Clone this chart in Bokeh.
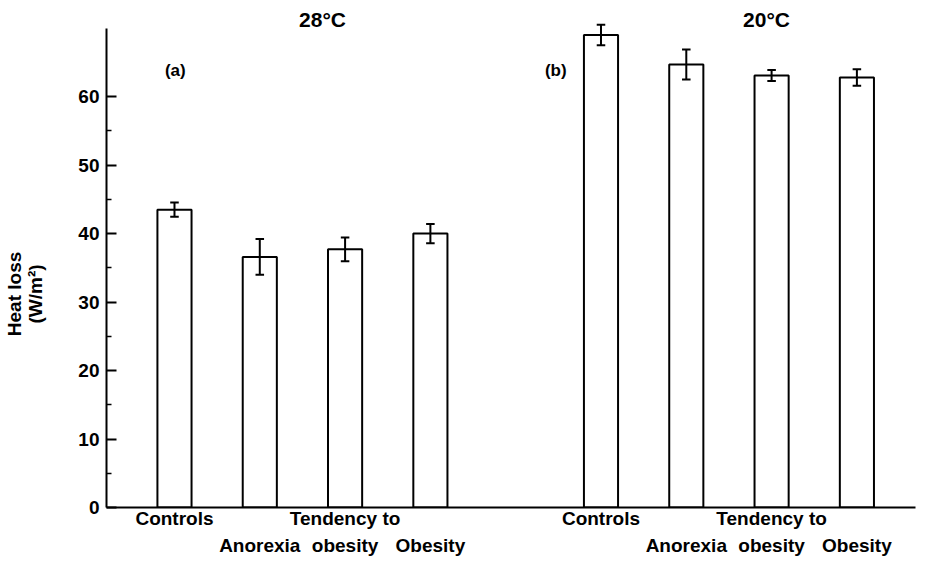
from bokeh.plotting import figure
from bokeh.models import Range1d, FixedTicker, Label, LinearAxis
from bokeh.embed import file_html
from bokeh.resources import INLINE

# ---- data ----
conditions = ["28°C", "20°C"]
panel_tags = ["(a)", "(b)"]
groups = ["Controls", "Anorexia", "Tendency to obesity", "Obesity"]
label_upper = ["Controls", "", "Tendency to", ""]
label_lower = ["", "Anorexia", "obesity", "Obesity"]
heat_28 = [43.5, 36.6, 37.7, 40.0]
err_28 = [1.05, 2.6, 1.75, 1.4]
heat_20 = [69.0, 64.7, 63.1, 62.8]
err_20 = [1.5, 2.2, 0.8, 1.2]
y_ticks = [0, 10, 20, 30, 40, 50, 60]
y_minor = [5, 15, 25, 35, 45, 55]
y_label_lines = ["Heat loss", "(W/m²)"]

FONT = "Liberation Sans"
PAD = "\u00a0" * 14  # shifts the centred y title down along the axis

p = figure(width=920, height=562, output_backend="svg", toolbar_location=None,
           x_range=Range1d(0.203, 9.687), y_range=Range1d(0, 73.17),
           min_border_left=106, min_border_right=5, min_border_top=6, min_border_bottom=55)
p.outline_line_color = None
p.xgrid.visible = False
p.ygrid.visible = False

values = [heat_28, heat_20]
errors = [err_28, err_20]
upper_ticks, upper_text = [], {}
lower_ticks, lower_text = [], {}
for gi in range(2):
    xs = [gi * 5 + i + 1 for i in range(len(groups))]
    tops = values[gi]
    errs = errors[gi]
    p.vbar(x=xs, top=tops, bottom=0, width=0.4, fill_color="white",
           line_color="black", line_width=2)
    lo = [t - e for t, e in zip(tops, errs)]
    hi = [t + e for t, e in zip(tops, errs)]
    p.segment(x0=xs, y0=lo, x1=xs, y1=hi, line_color="black", line_width=2)
    cap = 0.05
    p.segment(x0=[x - cap for x in xs], y0=hi, x1=[x + cap for x in xs], y1=hi,
              line_color="black", line_width=2)
    p.segment(x0=[x - cap for x in xs], y0=lo, x1=[x + cap for x in xs], y1=lo,
              line_color="black", line_width=2)
    for x, up, low in zip(xs, label_upper, label_lower):
        if up:
            upper_ticks.append(x)
            upper_text[x] = up
        if low:
            lower_ticks.append(x)
            lower_text[x] = low

title_x = [2.735, 7.94]
tag_x = [1.01, 5.47]
for gi in range(2):
    p.add_layout(Label(x=title_x[gi], y=71.2, text=conditions[gi], text_align="center",
                       text_baseline="middle", text_font=FONT, text_font_style="bold",
                       text_font_size="21px", text_color="black"))
    p.add_layout(Label(x=tag_x[gi], y=63.8, text=panel_tags[gi], text_align="center",
                       text_baseline="middle", text_font=FONT, text_font_style="bold",
                       text_font_size="17px", text_color="black"))

ya = p.yaxis[0]
ya.ticker = FixedTicker(ticks=y_ticks, minor_ticks=y_minor)
ya.bounds = (0, 70)
ya.axis_line_width = 2
ya.major_tick_in = 10
ya.major_tick_out = 0
ya.minor_tick_in = 5
ya.minor_tick_out = 0
ya.major_tick_line_width = 2
ya.minor_tick_line_width = 1.5
ya.major_label_standoff = 7
ya.major_label_text_font = FONT
ya.major_label_text_font_style = "bold"
ya.major_label_text_font_size = "19px"
ya.major_label_text_color = "black"

# second (label-only) left axis carrying the two-line y-axis title
yl = LinearAxis(ticker=FixedTicker(ticks=[]))
yl.axis_line_color = None
yl.major_tick_line_color = None
yl.minor_tick_line_color = None
yl.major_label_text_font_size = "0px"
yl.axis_label = "\n".join(line + PAD for line in y_label_lines)
yl.axis_label_standoff = 30
yl.axis_label_text_font = FONT
yl.axis_label_text_font_style = "bold"
yl.axis_label_text_font_size = "19px"
yl.axis_label_text_line_height = 1.0
yl.axis_label_text_color = "black"
p.add_layout(yl, "left")

xa = p.xaxis[0]
xa.ticker = FixedTicker(ticks=upper_ticks)
xa.major_label_overrides = upper_text
xa.axis_line_width = 2
xa.major_tick_line_color = None
xa.minor_tick_line_color = None
xa.major_label_standoff = -6
xa.major_label_text_font = FONT
xa.major_label_text_font_style = "bold"
xa.major_label_text_font_size = "19px"
xa.major_label_text_color = "black"

xb = LinearAxis(ticker=FixedTicker(ticks=lower_ticks), major_label_overrides=lower_text)
xb.axis_line_color = None
xb.major_tick_line_color = None
xb.minor_tick_line_color = None
xb.major_label_standoff = -3
xb.major_label_text_font = FONT
xb.major_label_text_font_style = "bold"
xb.major_label_text_font_size = "19px"
xb.major_label_text_color = "black"
p.add_layout(xb, "below")

open("out.html", "w").write(file_html(p, INLINE))
